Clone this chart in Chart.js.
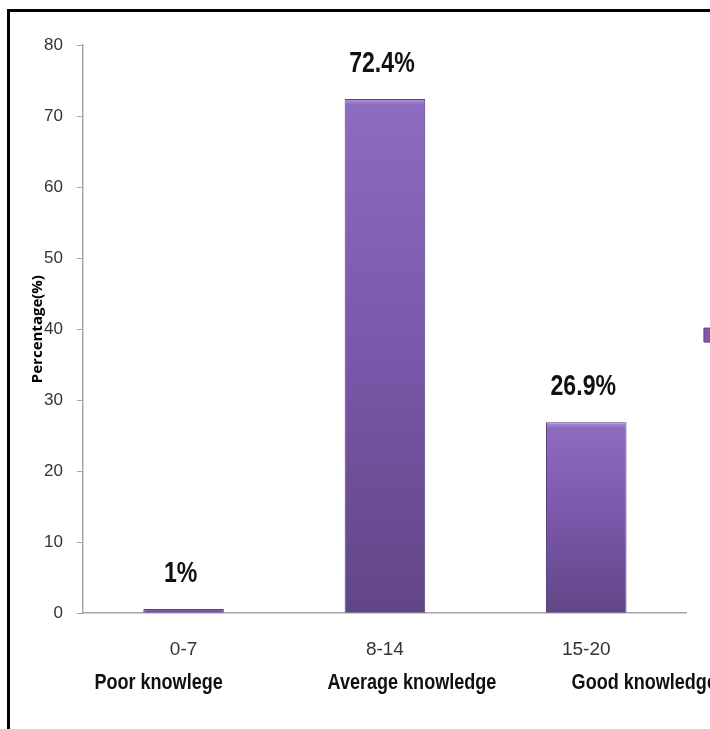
<!DOCTYPE html>
<html>
<head>
<meta charset="utf-8">
<script src="https://cdn.jsdelivr.net/npm/chart.js@4/dist/chart.umd.min.js"></script>
<style>
  html, body { margin: 0; padding: 0; background: #fff; width: 710px; height: 729px; overflow: hidden; }
  #wrap { position: absolute; left: 0; top: 0; width: 829px; height: 729px; }
  #frame { position: absolute; left: 7px; top: 9px; width: 800px; height: 800px;
           border-left: 3px solid #000; border-top: 3px solid #000; pointer-events: none; }
</style>
</head>
<body>
<div id="wrap"><canvas id="c"></canvas></div>
<div id="frame"></div>
<script>
// ---- data ----
const categories = ['0-7', '8-14', '15-20'];
const levelNames = ['Poor knowlege', 'Average knowledge', 'Good knowledge'];
const percentages = [0.6, 72.4, 26.9];
const valueLabels = ['1%', '72.4%', '26.9%'];
const seriesName = 'Percentage';
const yMin = 0, yMax = 80, yStep = 10;

// ---- layout constants (not data) ----
const nameShift = [-25, 27, 58];
const sans = '"Liberation Sans", Arial, sans-serif';

function barFill(ctx) {
  const chart = ctx.chart;
  const ys = chart.scales && chart.scales.y;
  if (!ys || ctx.type !== 'data') return '#7b5aaa';
  const top = ys.getPixelForValue(ctx.raw);
  const base = ys.getPixelForValue(0);
  if (!isFinite(top) || !isFinite(base) || base - top < 1) return '#7b5aaa';
  const h = base - top;
  const g = chart.ctx.createLinearGradient(0, top, 0, base);
  if (h > 20) {
    g.addColorStop(0, '#c0a2ec');
    g.addColorStop(2 / h, '#a583d6');
    g.addColorStop(6 / h, '#8d6bbf');
  } else {
    g.addColorStop(0, '#8d6bbf');
  }
  g.addColorStop(0.5, '#7957a9');
  g.addColorStop(1, '#614686');
  return g;
}

function squeezedText(ctx, text, x, y, k) {
  ctx.save();
  ctx.translate(x, y);
  ctx.scale(k, 1);
  ctx.fillText(text, 0, 0);
  ctx.restore();
}

const labelPlugin = {
  id: 'labelPlugin',
  afterDraw(chart) {
    const ctx = chart.ctx;
    const meta = chart.getDatasetMeta(0);
    const xs = chart.scales.x;
    ctx.save();
    ctx.fillStyle = '#111';
    ctx.textAlign = 'center';
    ctx.textBaseline = 'middle';
    ctx.font = 'bold 30px ' + sans;
    meta.data.forEach((bar, i) => {
      squeezedText(ctx, valueLabels[i], bar.x - 3, bar.y - 35, 0.77);
    });
    ctx.font = 'bold 22px ' + sans;
    levelNames.forEach((name, i) => {
      squeezedText(ctx, name, xs.getPixelForValue(i) + nameShift[i], chart.chartArea.bottom + 70, 0.82);
    });
    ctx.restore();
  }
};

new Chart(document.getElementById('c'), {
  type: 'bar',
  data: {
    labels: categories,
    datasets: [{
      label: seriesName,
      data: percentages,
      backgroundColor: barFill,
      borderColor: '#5b417f',
      borderWidth: 1,
      categoryPercentage: 1.0,
      barPercentage: 0.4
    }]
  },
  options: {
    responsive: true,
    maintainAspectRatio: false,
    animation: false,
    layout: { padding: { left: 29, right: 0, top: 45, bottom: 43 } },
    plugins: {
      tooltip: { enabled: false },
      legend: {
        display: true,
        position: 'right',
        fullSize: false,
        title: { display: true, text: ' ', padding: 0, font: { size: 10 } },
        labels: {
          boxWidth: 14,
          boxHeight: 14,
          padding: 17,
          font: { family: sans, size: 18 },
          color: '#333',
          generateLabels: () => [{ text: seriesName, fillStyle: '#7b5aaa', strokeStyle: '#5b417f', lineWidth: 1, datasetIndex: 0 }]
        }
      }
    },
    scales: {
      x: {
        grid: { display: false, drawTicks: false },
        border: { display: true, color: '#a6a6a6', width: 1.5 },
        ticks: { color: '#333', padding: 25, font: { family: sans, size: 19 } }
      },
      y: {
        min: yMin, max: yMax,
        ticks: { stepSize: yStep, color: '#333', padding: 14, font: { family: sans, size: 17 } },
        grid: { display: true, drawOnChartArea: false, drawTicks: true, tickLength: 6, color: '#a6a6a6' },
        border: { display: true, color: '#a6a6a6', width: 1.5 },
        title: {
          display: true,
          text: 'Percentage(%)',
          color: '#000',
          padding: { top: 0, bottom: -17 },
          font: { family: '"Open Sans", "DejaVu Sans", sans-serif', size: 15, weight: 'bold' }
        }
      }
    }
  },
  plugins: [labelPlugin]
});
</script>
</body>
</html>
